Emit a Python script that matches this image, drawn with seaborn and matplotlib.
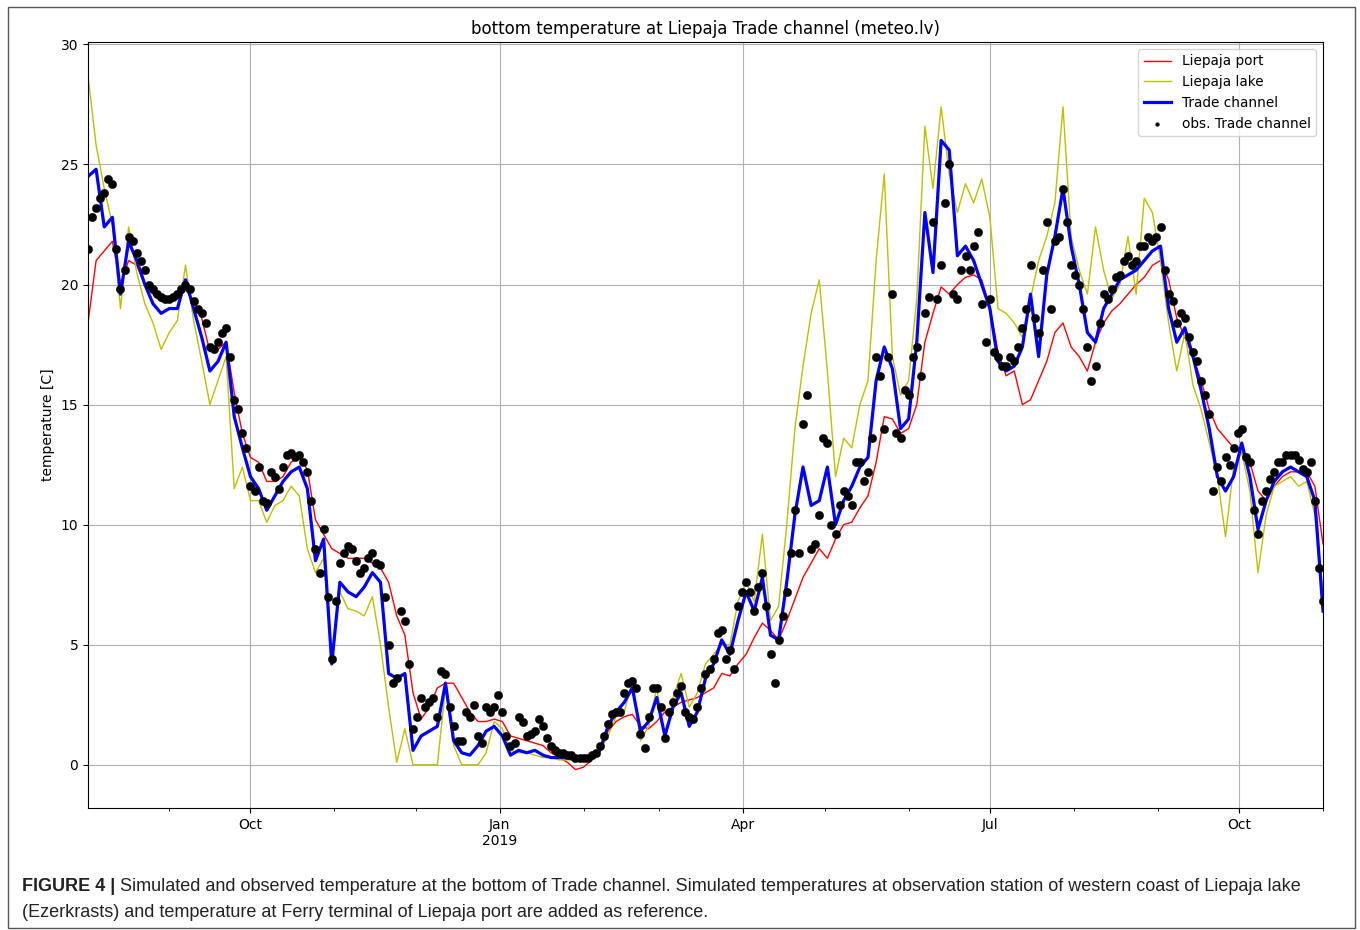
import pandas as pd
import matplotlib.pyplot as plt
import matplotlib.dates as mdates
import numpy as np
import seaborn as sns

# 3-day samples, 2018-08-02 .. 2019-11-01
dates = pd.date_range('2018-08-02', periods=153, freq='3D')
# observations read in between the 3-day samples
dates_mid = pd.date_range('2018-08-03 12:00', periods=152, freq='3D')

port = [18.4, 21.0, 21.4, 21.8, 20.0, 21.0, 20.8, 20.0, 19.6, 19.3, 19.3, 19.4, 19.8, 19.3, 18.6, 17.2, 17.3, 17.6,
        15.5, 13.8, 12.8, 12.6, 11.8, 11.8, 12.0, 12.6, 12.8,
        12.3, 10.2, 9.6, 9.0, 8.8, 8.6, 8.6, 8.6, 8.4, 8.2, 7.6, 6.2, 5.4, 3.0, 1.9, 2.4, 3.2, 3.4, 3.4, 2.8, 2.2,
        1.8, 1.8, 1.9, 1.8,
        1.2, 1.1, 1.0, 0.9, 0.8, 0.5, 0.3, 0.1, -0.2, -0.1, 0.2, 0.6, 1.4, 1.8, 2.0, 2.1, 1.6, 1.5, 1.8, 2.2, 2.4,
        2.6, 2.7, 2.8, 3.0, 3.2,
        3.8, 3.7, 4.2, 4.6, 5.3, 5.9, 5.6, 5.2, 6.0, 6.9, 7.8, 8.4, 9.0, 8.6, 9.4, 10.0, 10.1, 10.7, 11.2, 12.6,
        14.5, 14.4, 13.8, 14.0, 15.0, 17.6,
        18.8, 19.9, 19.6, 20.0, 20.3, 20.4, 20.2, 19.0, 17.2, 16.2, 16.4, 15.0, 15.2, 16.0, 16.8, 18.0, 18.4, 17.4,
        17.0, 16.4, 17.6, 18.4, 18.9, 19.2, 19.6, 20.0,
        20.3, 20.8, 21.0, 20.2, 18.6, 17.8, 17.0, 16.0, 14.8, 14.0, 13.6, 13.2, 13.0, 12.6, 11.4, 11.0, 11.6, 12.0,
        12.2, 12.2, 12.2, 11.6, 9.2]

lake = [28.7, 25.8, 24.0, 22.5, 19.0, 22.4, 20.5, 19.2, 18.4, 17.3, 18.0, 18.5, 20.8, 18.5, 16.8, 15.0, 16.0, 17.0,
        11.5, 12.4, 11.0, 11.0, 10.1, 10.8, 11.0, 11.6, 11.2,
        9.0, 8.0, 8.6, 4.5, 7.2, 6.5, 6.4, 6.2, 7.0, 5.0, 2.4, 0.1, 1.5, 0.0, 0.0, 0.0, 0.0, 3.2, 0.8, 0.0, 0.0,
        0.0, 0.5, 1.8, 1.5,
        0.6, 0.5, 0.5, 0.4, 0.3, 0.3, 0.2, 0.2, 0.2, 0.3, 0.4, 0.6, 1.2, 2.0, 2.2, 3.5, 1.0, 1.6, 3.2, 1.0, 2.8,
        3.8, 2.4, 3.0, 4.2, 4.6,
        5.0, 5.0, 6.8, 7.6, 6.8, 9.6, 6.0, 6.6, 10.0, 14.0, 16.6, 18.8, 20.2, 16.4, 12.0, 13.6, 13.2, 15.0, 16.0,
        21.0, 24.6, 17.0, 15.4, 16.0, 19.4, 26.6,
        24.0, 27.4, 24.6, 23.0, 24.2, 23.4, 24.4, 22.8, 19.0, 18.8, 18.4, 17.8, 19.4, 21.0, 22.0, 23.4, 27.4, 22.0,
        20.6, 19.6, 22.4, 20.6, 19.4, 20.0, 22.0, 19.6,
        23.6, 23.0, 21.0, 18.4, 16.4, 18.0, 15.8, 14.8, 13.4, 12.0, 9.5, 12.4, 13.0, 11.4, 8.0, 10.4, 11.6, 11.8,
        12.0, 11.6, 11.8, 10.4, 7.2]

trade = [24.5, 24.8, 22.4, 22.8, 19.6, 21.8, 21.0, 20.0, 19.2, 18.8, 19.0, 19.0, 20.2, 19.0, 17.8, 16.4, 16.8, 17.6,
         14.5, 13.2, 12.0, 11.5, 10.6, 11.2, 11.8, 12.2, 12.4,
         11.5, 8.5, 9.4, 4.2, 7.6, 7.2, 7.0, 7.4, 8.0, 7.6, 3.8, 3.6, 3.8, 0.6, 1.2, 1.4, 1.6, 3.4, 1.0, 0.5, 0.4,
         0.8, 1.4, 1.6, 1.2,
         0.4, 0.6, 0.5, 0.6, 0.4, 0.3, 0.3, 0.3, 0.2, 0.3, 0.4, 0.6, 1.6, 2.2, 2.6, 3.2, 1.4, 1.8, 2.8, 1.2, 2.4,
         3.0, 1.6, 2.2, 3.6, 4.2,
         5.2, 4.6, 6.0, 7.2, 6.4, 7.8, 5.4, 5.2, 7.6, 10.4, 12.4, 10.8, 11.0, 12.4, 10.0, 11.0, 11.6, 12.4, 12.8,
         16.0, 17.4, 16.5, 14.0, 14.4, 17.6, 23.0,
         20.5, 26.0, 25.6, 21.2, 21.6, 21.0, 20.0, 19.0, 16.8, 16.4, 16.6, 17.4, 19.6, 17.0, 20.4, 22.0, 24.0, 21.6,
         20.0, 18.0, 17.6, 19.0, 19.6, 20.2, 20.4, 20.6,
         21.0, 21.4, 21.6, 19.0, 17.6, 18.2, 17.0, 15.6, 14.0, 12.0, 11.4, 12.0, 13.4, 12.0, 9.8, 11.0, 11.8, 12.2,
         12.4, 12.2, 12.0, 11.0, 6.4]

obs = [21.5, 23.2, 23.8, 24.2, 19.8, 22.0, 21.3, 20.6, 19.8, 19.5, 19.4, 19.6, 20.0, 19.3, 18.8, 17.4, 17.6, 18.2,
       15.2, 13.8, 11.6, 12.4, 10.9, 12.0, 12.4, 13.0, 12.9,
       12.2, 9.0, 9.8, 4.4, 8.4, 9.1, 8.5, 8.2, 8.8, 8.3, 5.0, 3.6, 6.0, 1.5, 2.8, 2.6, 2.0, 3.8, 1.6, 1.0, 2.0,
       1.2, 2.4, 2.4, 2.2,
       0.8, 2.0, 1.2, 1.4, 1.6, 0.8, 0.5, 0.4, 0.3, 0.3, 0.4, 0.8, 1.7, 2.2, 3.0, 3.5, 1.3, 2.0, 3.2, 1.1, 2.6,
       3.3, 2.0, 2.4, 3.8, 4.4,
       5.6, 4.8, 6.6, 7.6, 6.4, 8.0, 4.6, 5.2, 7.2, 10.6, 14.2, 9.0, 10.4, 13.4, 9.6, 11.4, 10.8, 12.6, 12.2,
       17.0, 14.0, 19.6, 13.6, 15.4, 17.4, 18.8,
       22.6, 20.8, 25.0, 19.4, 21.2, 21.6, 19.2, 19.4, 17.0, 16.6, 16.8, 18.2, 20.8, 18.0, 22.6, 21.8, 24.0, 20.8,
       20.0, 17.4, 16.6, 19.6, 19.8, 20.4, 21.2, 21.0,
       21.6, 21.8, 22.4, 19.6, 18.4, 18.6, 17.2, 16.0, 14.6, 12.4, 12.8, 13.2, 14.0, 12.6, 9.6, 11.4, 12.2, 12.6,
       12.9, 12.7, 12.2, 11.0, 6.8]

obs_mid = [22.8, 23.6, 24.4, 21.5, 20.6, 21.8, 21.0, 20.0, 19.6, 19.4, 19.5, 19.8, 19.8, 19.0, 18.4, 17.3, 18.0,
           17.0, 14.8, 13.2, 11.4, 11.0, 12.2, 11.5, 12.9, 12.8, 12.6,
           11.0, 8.0, 7.0, 6.8, 8.8, 9.0, 8.0, 8.6, 8.4, 7.0, 3.4, 6.4, 4.2, 2.0, 2.4, 2.8, 3.9, 2.4, 1.0, 2.2,
           2.5, 0.9, 2.2, 2.9, 1.2,
           0.9, 1.8, 1.3, 1.9, 1.1, 0.6, 0.5, 0.4, 0.3, 0.3, 0.5, 1.2, 2.1, 2.2, 3.4, 3.2, 0.7, 3.2, 2.4, 2.2,
           3.0, 2.2, 1.9, 3.2, 4.0, 5.5,
           4.4, 4.0, 7.2, 7.2, 7.4, 6.6, 3.4, 6.2, 8.8, 8.8, 15.4, 9.2, 13.6, 10.0, 10.8, 11.2, 12.6, 11.8, 13.6,
           16.2, 17.0, 13.8, 15.6, 17.0, 16.2, 19.5,
           19.4, 23.4, 19.6, 20.6, 20.6, 22.2, 17.6, 17.2, 16.6, 17.0, 17.4, 19.0, 18.6, 20.6, 19.0, 22.0, 22.6,
           20.4, 19.0, 16.0, 18.4, 19.4, 20.3, 21.0, 20.8, 21.6,
           22.0, 22.0, 20.6, 19.3, 18.8, 17.8, 16.8, 15.4, 11.4, 11.8, 12.5, 13.8, 12.8, 10.6, 11.0, 11.9, 12.6,
           12.9, 12.9, 12.3, 12.6, 8.2]

obs_dates = list(dates) + list(dates_mid)
obs_vals = obs + obs_mid

fig = plt.figure(figsize=(13.6, 9.3), dpi=100)
ax = fig.add_axes([0.0647, 0.1312, 0.9081, 0.8236])

sns.lineplot(x=dates, y=port, color='red', lw=1, label='Liepaja port', ax=ax)
sns.lineplot(x=dates, y=lake, color='y', lw=1, label='Liepaja lake', ax=ax)
sns.lineplot(x=dates, y=trade, color='blue', lw=2.3, label='Trade channel', ax=ax)
sns.scatterplot(x=obs_dates, y=obs_vals, color='black', s=36, edgecolor='black', linewidth=0.3,
                label='obs. Trade channel', ax=ax, zorder=4)

ax.set_xlim(pd.Timestamp('2018-08-02'), pd.Timestamp('2019-11-01'))
ax.set_ylim(-1.8, 30.1)
ax.set_yticks([0, 5, 10, 15, 20, 25, 30])
ax.xaxis.set_minor_locator(mdates.MonthLocator())
ax.set_xticks(pd.to_datetime(['2018-10-01', '2019-01-01', '2019-04-01', '2019-07-01', '2019-10-01']))
ax.set_xticklabels(['Oct', 'Jan\n2019', 'Apr', 'Jul', 'Oct'])
ax.grid(True, which='major', color='#b0b0b0', lw=0.8)
ax.tick_params(labelsize=10)
ax.set_xlabel('')
ax.set_ylabel('temperature [C]', fontsize=10)
ax.set_title('bottom temperature at Liepaja Trade channel (meteo.lv)', fontsize=12)
ax.legend(loc='upper right', fontsize=9.8, markerscale=0.45)

# frame around the chart image
fig.patches.append(plt.Rectangle((8 / 1360, 0.002), 1347 / 1360, 0.991, transform=fig.transFigure,
                                 fill=False, edgecolor='#555555', lw=1))

# caption
cap1 = fig.text(22 / 1360, 1 - 891 / 930, 'FIGURE 4 |', fontsize=13, fontweight='bold',
                family='Liberation Sans', color='#222222', va='baseline')
fig.canvas.draw()
bb = cap1.get_window_extent()
fig.text((bb.x1 + 5) / 1360, 1 - 891 / 930,
         'Simulated and observed temperature at the bottom of Trade channel. Simulated temperatures at '
         'observation station of western coast of Liepaja lake',
         fontsize=13, family='Liberation Sans', color='#222222', va='baseline')
fig.text(22 / 1360, 1 - 917 / 930,
         '(Ezerkrasts) and temperature at Ferry terminal of Liepaja port are added as reference.',
         fontsize=13, family='Liberation Sans', color='#222222', va='baseline')

fig.savefig('out.png', dpi=100)
